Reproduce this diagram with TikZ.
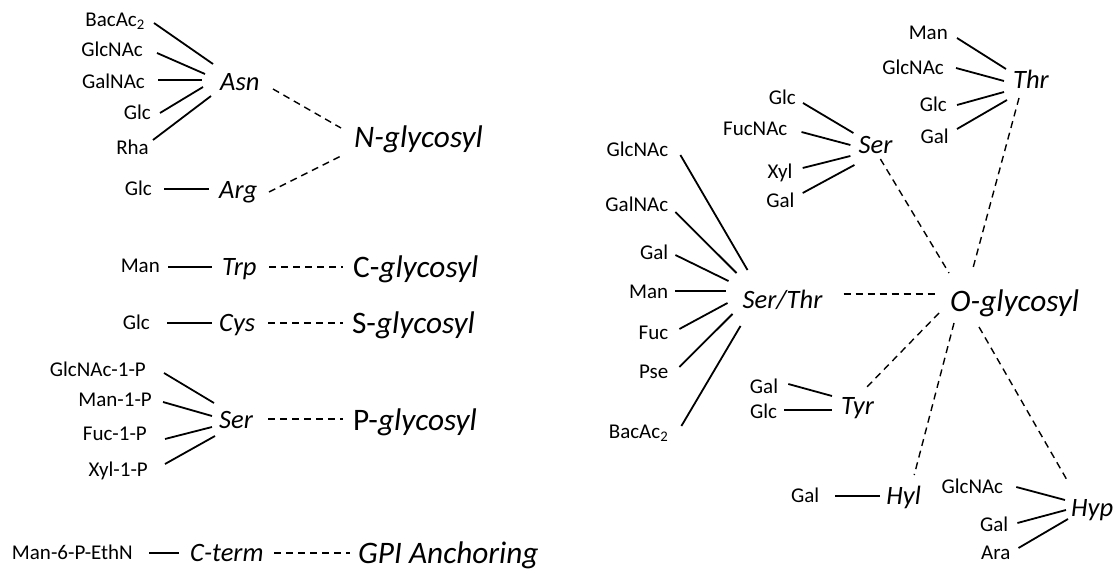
\documentclass[tikz,border=0pt]{standalone}
\usepackage{fontspec}
\setmainfont{Carlito}
\usetikzlibrary{calc}
\tikzset{
  sm/.style={font=\fontsize{21}{25}\selectfont, inner sep=0pt, text height=13.5pt, text depth=0pt},
  md/.style={font=\fontsize{26.5}{30}\selectfont\itshape, inner sep=0pt, text height=17pt, text depth=0pt},
  bg/.style={font=\fontsize{31.3}{36}\selectfont, inner sep=0pt, text height=20pt, text depth=0pt},
  link/.style={line width=1.8pt},
  dlink/.style={line width=1.4pt, dash pattern=on 7pt off 5pt}
}
\begin{document}
\begin{tikzpicture}[x=1pt,y=-1pt]
\useasboundingbox (0,0) rectangle (1117,572);
% ---------- left: N ----------
\node[sm,anchor=east] (bacL) at (145,20) {BacAc\textsubscript{2}};
\node[sm,anchor=east] (gnL) at (143,50) {GlcNAc};
\node[sm,anchor=east] (galnacL) at (145,82) {GalNAc};
\node[sm,anchor=east] (glcA) at (151,113) {Glc};
\node[sm,anchor=east] (rha) at (149,148) {Rha};
\node[md,anchor=west] (asn) at (220,82) {Asn};
\node[bg,anchor=west] (nglyc) at (354,138) {\itshape N-glycosyl};
\node[sm,anchor=east] (glcR) at (152,189) {Glc};
\node[md,anchor=west] (arg) at (219,190) {Arg};
\draw[link] ($(bacL.east)+(9,3)$) -- ($(asn.west)+(-7,-18)$);
\draw[link] ($(gnL.east)+(14,3)$) -- ($(asn.west)+(-15,-8)$);
\draw[link] ($(galnacL.east)+(13,-2)$) -- ($(asn.west)+(-18,-2)$);
\draw[link] ($(glcA.east)+(9,0)$) -- ($(asn.west)+(-17,5)$);
\draw[link] ($(rha.east)+(4,-8)$) -- ($(asn.west)+(-9,14)$);
\draw[dlink] ($(asn.west)+(53,7)$) -- ($(nglyc.west)+(-13,-10)$);
\draw[link] ($(glcR.east)+(12,0)$) -- ($(arg.west)+(-10,-1)$);
\draw[dlink] ($(arg.west)+(50,2)$) -- ($(nglyc.west)+(-13,18)$);
% ---------- C ----------
\node[sm,anchor=east] (manT) at (160,266) {Man};
\node[md,anchor=west] (trp) at (222,267) {Trp};
\node[bg,anchor=west] (cgly) at (353,267) {C-\textit{glycosyl}};
\draw[link] ($(manT.east)+(8,1)$) -- ($(trp.west)+(-10,0)$);
\draw[dlink] ($(trp.west)+(47,0)$) -- ($(cgly.west)+(-10,0)$);
% ---------- S ----------
\node[sm,anchor=east] (glcC) at (150,323) {Glc};
\node[md,anchor=west] (cys) at (219,323) {Cys};
\node[bg,anchor=west] (sgly) at (352,323) {S-\textit{glycosyl}};
\draw[link] ($(glcC.east)+(17,0)$) -- ($(cys.west)+(-7,0)$);
\draw[dlink] ($(cys.west)+(49,0)$) -- ($(sgly.west)+(-9,0)$);
% ---------- P ----------
\node[sm,anchor=east] (gn1p) at (146,370) {GlcNAc-1-P};
\node[sm,anchor=east] (m1p) at (152,400) {Man-1-P};
\node[sm,anchor=east] (f1p) at (147,434) {Fuc-1-P};
\node[sm,anchor=east] (x1p) at (148,470) {Xyl-1-P};
\node[md,anchor=west] (serP) at (219,420) {Ser};
\node[bg,anchor=west] (pgly) at (353,420) {P-\textit{glycosyl}};
\draw[link] ($(gn1p.east)+(18,3)$) -- ($(serP.west)+(-5,-17)$);
\draw[link] ($(m1p.east)+(11,2)$) -- ($(serP.west)+(-7,-4)$);
\draw[link] ($(f1p.east)+(18,5)$) -- ($(serP.west)+(-7,7)$);
\draw[link] ($(x1p.east)+(17,-6)$) -- ($(serP.west)+(-4,16)$);
\draw[dlink] ($(serP.west)+(49,-1)$) -- ($(pgly.west)+(-10,-1)$);
% ---------- GPI ----------
\node[sm,anchor=east] (m6p) at (133,553) {Man-6-P-EthN};
\node[md,anchor=west] (cterm) at (190,553) {C-term};
\node[bg,anchor=west] (gpi) at (358,553) {\itshape GPI Anchoring};
\draw[link] ($(m6p.east)+(16,0)$) -- ($(cterm.west)+(-11,0)$);
\draw[dlink] ($(cterm.west)+(84,0)$) -- ($(gpi.west)+(-8,0)$);
% ---------- right: O ----------
\node[bg,anchor=west] (ogly) at (950,301) {\itshape O-glycosyl};
% Thr
\node[sm,anchor=east] (manTh) at (948,33) {Man};
\node[sm,anchor=east] (gnTh) at (944,68) {GlcNAc};
\node[sm,anchor=east] (glcTh) at (947,105) {Glc};
\node[sm,anchor=east] (galTh) at (949,137) {Gal};
\node[md,anchor=west] (thr) at (1013,80) {Thr};
\draw[link] ($(manTh.east)+(9,5)$) -- ($(thr.west)+(-7,-11)$);
\draw[link] ($(gnTh.east)+(12,0)$) -- ($(thr.west)+(-9,1)$);
\draw[link] ($(glcTh.east)+(10,0)$) -- ($(thr.west)+(-9,12)$);
\draw[link] ($(galTh.east)+(8,-8)$) -- ($(thr.west)+(-6,20)$);
\draw[dlink] ($(thr.west)+(6,18)$) -- ($(ogly.west)+(23,-33)$);
% Ser
\node[sm,anchor=east] (glcS) at (796,98) {Glc};
\node[sm,anchor=east] (fucnac) at (787.5,129) {FucNAc};
\node[sm,anchor=east] (xyl) at (792.7,172) {Xyl};
\node[sm,anchor=east] (galS) at (794.7,201) {Gal};
\node[md,anchor=west] (serR) at (858.4,145) {Ser};
\draw[link] ($(glcS.east)+(7,5)$) -- ($(serR.west)+(-5,-12)$);
\draw[link] ($(fucnac.east)+(14,3)$) -- ($(serR.west)+(-8,0)$);
\draw[link] ($(xyl.east)+(10,-4)$) -- ($(serR.west)+(-8,11)$);
\draw[link] ($(galS.east)+(8,-8)$) -- ($(serR.west)+(-4,20)$);
\draw[dlink] ($(serR.west)+(22,14)$) -- ($(ogly.west)+(-1,-28)$);
% Ser/Thr
\node[sm,anchor=east] (gnST) at (668.4,150) {GlcNAc};
\node[sm,anchor=east] (galnacST) at (668.4,205) {GalNAc};
\node[sm,anchor=east] (galST) at (668.4,253) {Gal};
\node[sm,anchor=east] (manST) at (668.4,292) {Man};
\node[sm,anchor=east] (fucST) at (668.4,333) {Fuc};
\node[sm,anchor=east] (pseST) at (668.4,372) {Pse};
\node[sm,anchor=east] (bacST) at (668.4,432) {BacAc\textsubscript{2}};
\node[md,anchor=west] (serthr) at (742.5,300) {Ser/Thr};
\draw[link] ($(gnST.east)+(12,5)$) -- ($(serthr.west)+(5,-30)$);
\draw[link] ($(galnacST.east)+(7,7)$) -- ($(serthr.west)+(-6,-27)$);
\draw[link] ($(galST.east)+(7,2)$) -- ($(serthr.west)+(-14,-19)$);
\draw[link] ($(manST.east)+(7,-1)$) -- ($(serthr.west)+(-17,-9)$);
\draw[link] ($(fucST.east)+(11,-4)$) -- ($(serthr.west)+(-15,3)$);
\draw[link] ($(pseST.east)+(11,-5)$) -- ($(serthr.west)+(-10,14)$);
\draw[link] ($(bacST.east)+(13,-6)$) -- ($(serthr.west)+(-2,26)$);
\draw[dlink] ($(serthr.west)+(101,-6)$) -- ($(ogly.west)+(-13,-7)$);
% Tyr
\node[sm,anchor=east] (galTy) at (778.3,387) {Gal};
\node[sm,anchor=east] (glcTy) at (777.3,412) {Glc};
\node[md,anchor=west] (tyr) at (841,406) {Tyr};
\draw[link] ($(galTy.east)+(10,-3)$) -- ($(tyr.west)+(-9,-10)$);
\draw[link] ($(glcTy.east)+(7,-2)$) -- ($(tyr.west)+(-9,4)$);
\draw[dlink] ($(ogly.west)+(-11,12)$) -- ($(tyr.west)+(25,-18)$);
% Hyl
\node[sm,anchor=east] (galHyl) at (819.4,496) {Gal};
\node[md,anchor=west] (hyl) at (886.2,496) {Hyl};
\draw[link] ($(galHyl.east)+(16,0)$) -- ($(hyl.west)+(-6,0)$);
\draw[dlink] ($(ogly.west)+(4,22)$) -- ($(hyl.west)+(28,-21)$);
% Hyp
\node[sm,anchor=east] (gnHyp) at (1003.3,487) {GlcNAc};
\node[sm,anchor=east] (galHyp) at (1008.4,525) {Gal};
\node[sm,anchor=east] (ara) at (1010.5,553) {Ara};
\node[md,anchor=west] (hyp) at (1071,508) {Hyp};
\draw[dlink] ($(ogly.west)+(29,26)$) -- ($(hyp.west)+(-4,-28)$);
\draw[link] ($(gnHyp.east)+(13,0)$) -- ($(hyp.west)+(-6,-8)$);
\draw[link] ($(galHyp.east)+(9,-2)$) -- ($(hyp.west)+(-5,2)$);
\draw[link] ($(ara.east)+(8,-5)$) -- ($(hyp.west)+(-3,11)$);
\end{tikzpicture}
\end{document}
